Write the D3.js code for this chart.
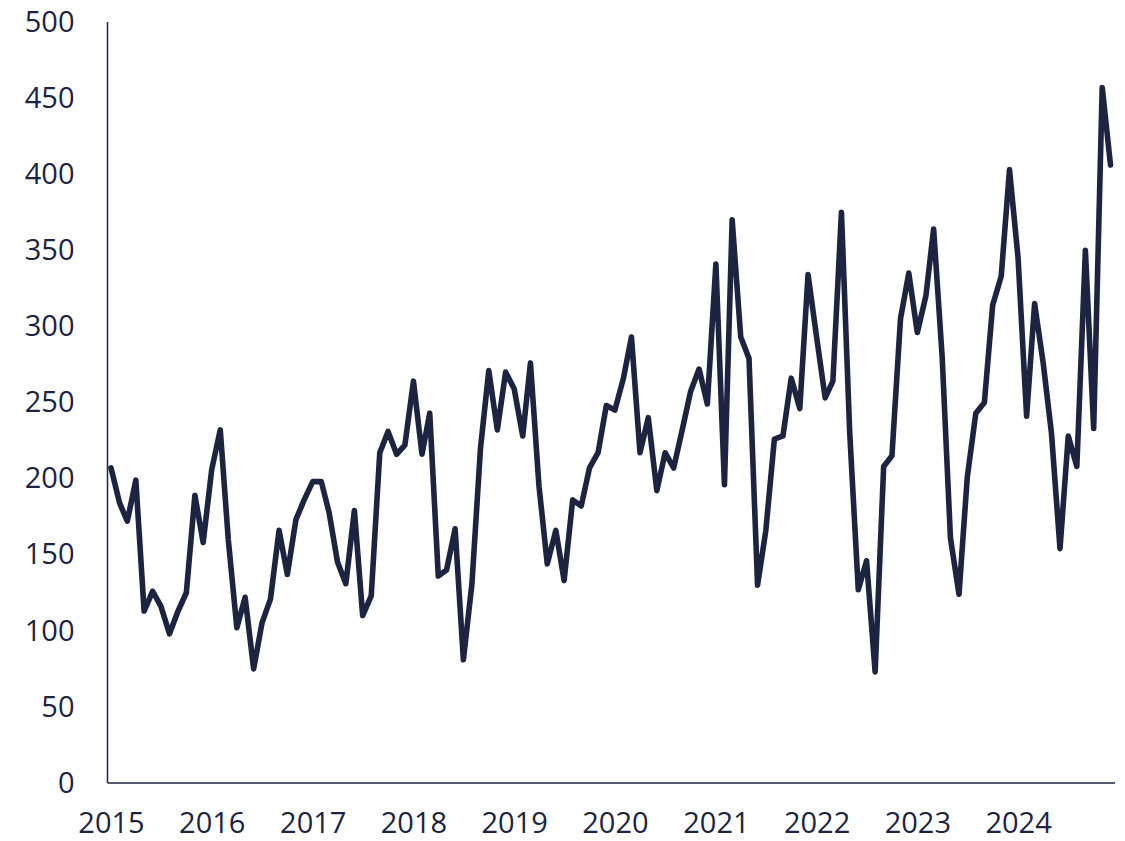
<!DOCTYPE html>
<html>
<head>
<meta charset="utf-8">
<script src="https://cdn.jsdelivr.net/npm/d3@7"></script>
<style>
  body { margin: 0; background: #fff; }
  svg text { font-family: "Open Sans", "Noto Sans", sans-serif; }
</style>
</head>
<body>
<div id="chart"></div>
<script>
// monthly values, Jan 2015 .. Dec 2024
const startYear = 2015;
const values2015 = [207, 184, 172, 199, 113, 126, 116, 98, 113, 125, 189, 158];
const values2016 = [206, 232, 160, 102, 122, 75, 105, 121, 166, 137, 173, 186];
const values2017 = [198, 198, 178, 145, 131, 179, 110, 123, 217, 231, 216, 222];
const values2018 = [264, 216, 243, 136, 140, 167, 81, 131, 220, 271, 232, 270];
const values2019 = [259, 228, 276, 195, 144, 166, 133, 186, 182, 207, 217, 248];
const values2020 = [245, 266, 293, 217, 240, 192, 217, 207, 232, 257, 272, 249];
const values2021 = [341, 196, 370, 293, 279, 130, 166, 226, 228, 266, 246, 334];
const values2022 = [293, 253, 264, 375, 230, 127, 146, 73, 208, 215, 305, 335];
const values2023 = [296, 320, 364, 280, 161, 124, 201, 243, 250, 314, 333, 403];
const values2024 = [345, 241, 315, 276, 230, 154, 228, 208, 350, 233, 457, 406];
const yTicks = [0, 50, 100, 150, 200, 250, 300, 350, 400, 450, 500];
const yearLabels = [2015, 2016, 2017, 2018, 2019, 2020, 2021, 2022, 2023, 2024];

const series = [values2015, values2016, values2017, values2018, values2019,
                values2020, values2021, values2022, values2023, values2024].flat();
const data = series.map((v, i) => ({ date: new Date(startYear, i, 1), value: v }));

const width = 1125, height = 841;
const ink = "#1c2441";
const axisX = 107.5, axisBottom = 783, axisTop = 22, axisRight = 1115;

const svg = d3.select("#chart").append("svg")
    .attr("width", width)
    .attr("height", height);

const x = d3.scaleTime()
    .domain([data[0].date, data[data.length - 1].date])
    .range([111, 1110.5]);

const y = d3.scaleLinear()
    .domain([0, 500])
    .range([axisBottom, axisTop]);

// axis lines
svg.append("line")
    .attr("x1", axisX).attr("x2", axisX)
    .attr("y1", y(500)).attr("y2", y(0))
    .attr("stroke", ink).attr("stroke-width", 1.5);
svg.append("line")
    .attr("x1", axisX).attr("x2", axisRight)
    .attr("y1", y(0)).attr("y2", y(0))
    .attr("stroke", ink).attr("stroke-width", 1.5);

svg.append("g")
    .attr("transform", `translate(${axisX},0)`)
    .call(d3.axisLeft(y).tickValues(yTicks).tickSize(0).tickPadding(33));

svg.append("g")
    .attr("transform", `translate(0,${axisBottom})`)
    .call(d3.axisBottom(x)
        .tickValues(yearLabels.map(yr => new Date(yr, 0, 1)))
        .tickFormat(d3.timeFormat("%Y"))
        .tickSize(0)
        .tickPadding(29));

svg.selectAll(".domain").remove();
svg.selectAll(".tick text")
    .attr("fill", ink)
    .style("font-size", "29px");

const line = d3.line()
    .x(d => x(d.date))
    .y(d => y(d.value));

svg.append("path")
    .datum(data)
    .attr("fill", "none")
    .attr("stroke", ink)
    .attr("stroke-width", 5.6)
    .attr("stroke-linejoin", "round")
    .attr("stroke-linecap", "round")
    .attr("d", line);
</script>
</body>
</html>
